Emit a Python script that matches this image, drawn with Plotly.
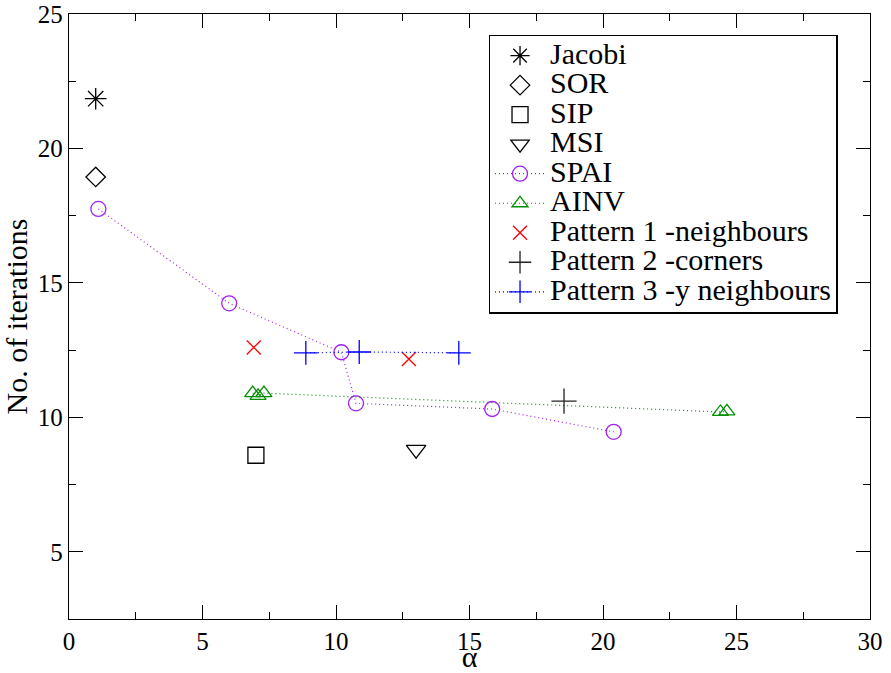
import plotly.graph_objects as go

# ---- data ----
jacobi_x = [1.0]
jacobi_y = [21.85]
sor_x = [1.0]
sor_y = [18.94]
sip_x = [7.0]
sip_y = [8.59]
msi_x = [13.0]
msi_y = [8.8]
spai_x = [1.1, 6.0, 10.2, 10.75, 15.85, 20.4]
spai_y = [17.75, 14.24, 12.42, 10.52, 10.31, 9.46]
ainv_x = [6.88, 7.08, 7.3, 24.4, 24.64]
ainv_y = [10.9, 10.8, 10.9, 10.2, 10.22]
pat1_x = [6.92, 12.73]
pat1_y = [12.6, 12.17]
pat2_x = [18.54]
pat2_y = [10.6]
pat3_x = [8.87, 10.87, 14.6]
pat3_y = [12.4, 12.43, 12.4]

series_names = ["Jacobi", "SOR", "SIP", "MSI", "SPAI", "AINV",
                "Pattern 1 -neighbours", "Pattern 2 -corners", "Pattern 3 -y neighbours"]

FONT = "Liberation Serif"
PURPLE = "#A020F0"
GREEN = "#009000"
LW = 1.3


def legname(s):
    return '<span style="font-size:30px">' + s + '</span>'


def mk(symbol, color, size):
    return dict(symbol=symbol, size=size, color=color,
                line=dict(color=color, width=LW))


fig = go.Figure()
fig.add_trace(go.Scatter(x=jacobi_x, y=jacobi_y, mode="markers", name=legname(series_names[0]),
                         marker=mk("asterisk-open", "black", 18)))
fig.add_trace(go.Scatter(x=sor_x, y=sor_y, mode="markers", name=legname(series_names[1]),
                         marker=mk("diamond-open", "black", 15)))
fig.add_trace(go.Scatter(x=sip_x, y=sip_y, mode="markers", name=legname(series_names[2]),
                         marker=mk("square-open", "black", 16)))
fig.add_trace(go.Scatter(x=msi_x, y=msi_y, mode="markers", name=legname(series_names[3]),
                         marker=mk("triangle-down-open", "black", 17)))
fig.add_trace(go.Scatter(x=spai_x, y=spai_y, mode="lines+markers", name=legname(series_names[4]),
                         line=dict(color=PURPLE, width=1.2, dash="1px,3px"),
                         marker=mk("circle-open", PURPLE, 15)))
fig.add_trace(go.Scatter(x=ainv_x, y=ainv_y, mode="lines+markers", name=legname(series_names[5]),
                         line=dict(color=GREEN, width=1.2, dash="1px,3px"),
                         marker=mk("triangle-up-open", GREEN, 14)))
fig.add_trace(go.Scatter(x=pat1_x, y=pat1_y, mode="markers", name=legname(series_names[6]),
                         marker=mk("x-thin-open", "red", 14)))
fig.add_trace(go.Scatter(x=pat2_x, y=pat2_y, mode="markers", name=legname(series_names[7]),
                         marker=mk("cross-thin-open", "#222222", 18)))
fig.add_trace(go.Scatter(x=pat3_x, y=pat3_y, mode="lines+markers", name=legname(series_names[8]),
                         line=dict(color="blue", width=1.2, dash="1px,3px"),
                         marker=mk("cross-thin-open", "blue", 17)))

axis_common = dict(
    showline=True, linecolor="black", linewidth=LW, mirror="allticks",
    ticks="inside", ticklen=14, tickwidth=LW, tickcolor="black",
    showgrid=False, zeroline=False, automargin=False,
    tickfont=dict(family=FONT, size=25, color="black"),
    minor=dict(ticks="inside", ticklen=7, tickwidth=LW, tickcolor="black", showgrid=False),
)

fig.update_xaxes(range=[0, 30], dtick=5, tick0=0, **axis_common)
fig.update_xaxes(minor_dtick=2.5,
                 title=dict(text="α", font=dict(family=FONT, size=30, color="black"), standoff=9))
fig.update_yaxes(range=[2.5, 25], dtick=5, tick0=0, **axis_common)
fig.update_yaxes(minor_dtick=2.5,
                 title=dict(text="No. of iterations", font=dict(family=FONT, size=30, color="black"), standoff=15))

fig.update_layout(
    width=891, height=673,
    margin=dict(l=69, r=21, t=14, b=54, autoexpand=False),
    plot_bgcolor="white", paper_bgcolor="white",
    font=dict(family=FONT, color="black"),
    legend=dict(x=0.524, y=0.966, xanchor="left", yanchor="top",
                bgcolor="white", bordercolor="black", borderwidth=LW,
                font=dict(family=FONT, size=20.4, color="black"),
                tracegroupgap=0, itemwidth=50),
    showlegend=True,
)

fig.write_html("out.html", config={"displayModeBar": False},
               post_script="document.body.style.margin='0';")
